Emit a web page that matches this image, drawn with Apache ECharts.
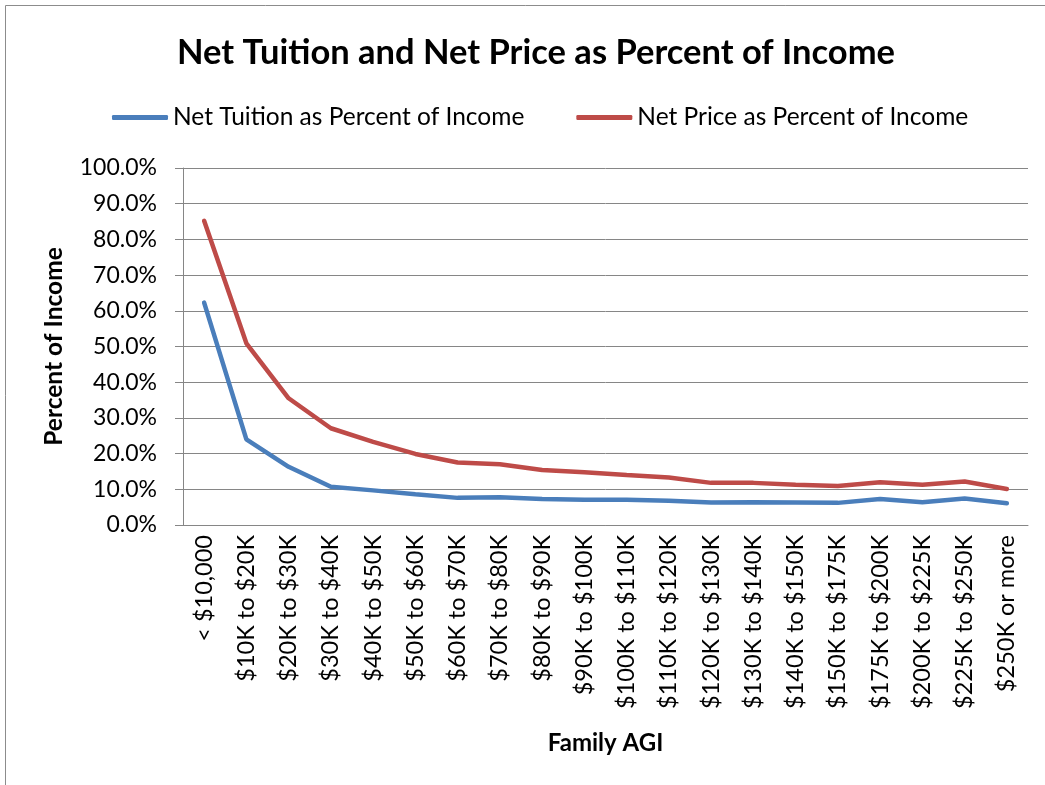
<!DOCTYPE html>
<html>
<head>
<meta charset="utf-8">
<script src="https://cdn.jsdelivr.net/npm/echarts@6/dist/echarts.min.js"></script>
<style>
  html, body { margin: 0; padding: 0; background: #fff; }
  #chart { width: 1045px; height: 785px; }
</style>
</head>
<body>
<div id="chart"></div>
<script>
// categories on the x axis
const agiBands = ['< $10,000', '$10K to $20K', '$20K to $30K', '$30K to $40K', '$40K to $50K',
  '$50K to $60K', '$60K to $70K', '$70K to $80K', '$80K to $90K', '$90K to $100K',
  '$100K to $110K', '$110K to $120K', '$120K to $130K', '$130K to $140K', '$140K to $150K',
  '$150K to $175K', '$175K to $200K', '$200K to $225K', '$225K to $250K', '$250K or more']
// values in percent
const netTuition = [62.3, 24.0, 16.3, 10.7, 9.7, 8.6, 7.6, 7.8, 7.3, 7.1,
  7.1, 6.8, 6.3, 6.4, 6.3, 6.2, 7.3, 6.4, 7.4, 6.1]
const netPrice = [85.2, 50.9, 35.5, 27.1, 23.3, 19.9, 17.5, 17.0, 15.4, 14.8,
  14.0, 13.3, 11.8, 11.8, 11.3, 10.9, 12.0, 11.3, 12.2, 10.1]

const font = 'Lato'
let chart = echarts.init(document.getElementById('chart'))
chart.setOption({
  animation: false,
  textStyle: { fontFamily: font },
  //外框
  graphic: [{
    type: 'rect',
    shape: { x: 5.5, y: 5.5, width: 1100, height: 900 },
    style: { fill: 'none', stroke: '#8c8c8c', lineWidth: 1 }
  }],
  title: {
    text: 'Net Tuition and Net Price as Percent of Income',
    left: 172,
    top: 30,
    textStyle: { fontFamily: font, fontWeight: 'bold', fontSize: 34.5, color: '#000' }
  },
  legend: {
    top: 100,
    left: 107,
    itemWidth: 56,
    itemHeight: 5,
    itemGap: 52,
    icon: 'roundRect',
    textStyle: { fontFamily: font, fontSize: 24.5, color: '#000' },
    data: ['Net Tuition as Percent of Income', 'Net Price as Percent of Income']
  },
  grid: {
    left: 183,
    right: 17,
    top: 168,
    bottom: 260
  },
  xAxis: {
    type: 'category',
    data: agiBands,
    boundaryGap: true,
    name: 'Family AGI',
    nameLocation: 'middle',
    nameGap: 206,
    nameTextStyle: { fontFamily: font, fontWeight: 'bold', fontSize: 24, color: '#000' },
    axisLine: { lineStyle: { color: '#868686', width: 1 } },
    axisTick: { length: 8, lineStyle: { color: '#868686' } },
    axisLabel: {
      rotate: 90,
      interval: 0,
      margin: 10,
      fontFamily: font,
      fontSize: 23.5,
      color: '#000'
    }
  },
  yAxis: {
    type: 'value',
    min: 0,
    max: 100,
    interval: 10,
    name: 'Percent of Income',
    nameLocation: 'middle',
    nameGap: 116,
    nameTextStyle: { fontFamily: font, fontWeight: 'bold', fontSize: 24.5, color: '#000' },
    axisLine: { show: true, lineStyle: { color: '#868686', width: 1 } },
    axisTick: { show: true, length: 8, lineStyle: { color: '#868686' } },
    axisLabel: {
      margin: 26,
      fontFamily: font,
      fontSize: 23,
      color: '#000',
      formatter: v => v.toFixed(1) + '%'
    },
    splitLine: { lineStyle: { color: '#868686', width: 1 } }
  },
  series: [
    {
      name: 'Net Tuition as Percent of Income',
      type: 'line',
      data: netTuition,
      symbol: 'none',
      color: '#4A7EBB',
      lineStyle: { width: 4.5, color: '#4A7EBB', cap: 'round' }
    },
    {
      name: 'Net Price as Percent of Income',
      type: 'line',
      data: netPrice,
      symbol: 'none',
      color: '#BE4B48',
      lineStyle: { width: 4.5, color: '#BE4B48', cap: 'round' }
    }
  ]
})
</script>
</body>
</html>
